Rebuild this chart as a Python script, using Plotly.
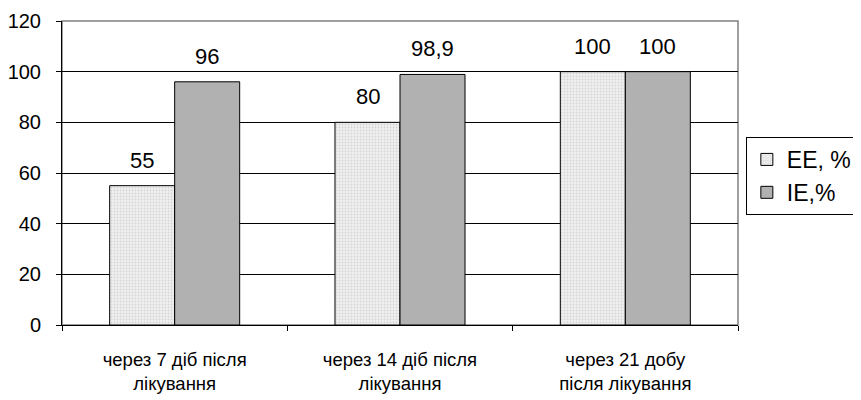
import plotly.graph_objects as go

categories = ["через 7 діб після<br>лікування",
              "через 14 діб після<br>лікування",
              "через 21 добу<br>після лікування"]
ee_values = [55, 80, 100]
ie_values = [96, 98.9, 100]
ee_labels = ["55", "80", "100"]
ie_labels = ["96", "98,9", "100"]
series_names = ["EE, %", "IE,%"]
y_ticks = [0, 20, 40, 60, 80, 100, 120]

FONT = "Liberation Sans, Arial, sans-serif"
bar_w = 0.2885

fig = go.Figure()
fig.add_trace(go.Bar(
    x=categories, y=ee_values, name=series_names[0],
    width=bar_w, offset=-bar_w,
    marker=dict(color="#e4e4e4", line=dict(color="black", width=1),
                pattern=dict(shape=".", fgcolor="#b8b8b8", bgcolor="#f0f0f0",
                             size=3, solidity=0.3)),
))
fig.add_trace(go.Bar(
    x=categories, y=ie_values, name=series_names[1],
    width=bar_w, offset=0,
    marker=dict(color="#a0a0a0", line=dict(color="black", width=1),
                pattern=dict(shape=".", fgcolor="#606060", bgcolor="#c8c8c8",
                             size=2, solidity=0.5)),
))

for cat, v, t in zip(categories, ee_values, ee_labels):
    fig.add_annotation(x=cat, y=v, text=t, showarrow=False, xshift=-32.5,
                       yanchor="bottom", yshift=11,
                       font=dict(family=FONT, size=22, color="black"))
for cat, v, t in zip(categories, ie_values, ie_labels):
    fig.add_annotation(x=cat, y=v, text=t, showarrow=False, xshift=32.5,
                       yanchor="bottom", yshift=11,
                       font=dict(family=FONT, size=22, color="black"))

# plot area border (gray top/right)
fig.add_shape(type="rect", xref="paper", yref="paper", x0=0, x1=1, y0=0, y1=1,
              line=dict(color="#808080", width=1.5), layer="below")

# page body has an 8px default margin, so the figure is offset by 8px
fig.update_layout(
    width=853, height=392,
    margin=dict(l=54, r=123, t=13, b=75, autoexpand=False),
    paper_bgcolor="white", plot_bgcolor="white",
    font=dict(family=FONT, size=19, color="black"),
    barmode="group",
    showlegend=True,
    legend=dict(xref="container", yref="container", x=0.865, y=0.671,
                xanchor="left", yanchor="top",
                bordercolor="black", borderwidth=1, bgcolor="white",
                font=dict(family=FONT, size=23, color="black"),
                tracegroupgap=0, itemwidth=30),
    xaxis=dict(type="category", showgrid=False, showline=True, linecolor="black",
               linewidth=1, ticks="outside", tickson="boundaries", ticklen=5,
               tickcolor="black", tickfont=dict(family=FONT, size=18.5),
               ticklabelstandoff=18, zeroline=False, automargin=False),
    yaxis=dict(range=[0, 120], tickvals=y_ticks, showgrid=True,
               gridcolor="black", gridwidth=1, showline=True, linecolor="black",
               linewidth=1, ticks="outside", ticklen=5, tickcolor="black",
               tickfont=dict(family=FONT, size=20), ticklabelstandoff=11,
               zeroline=False, automargin=False),
)

fig.write_html("out.html")
